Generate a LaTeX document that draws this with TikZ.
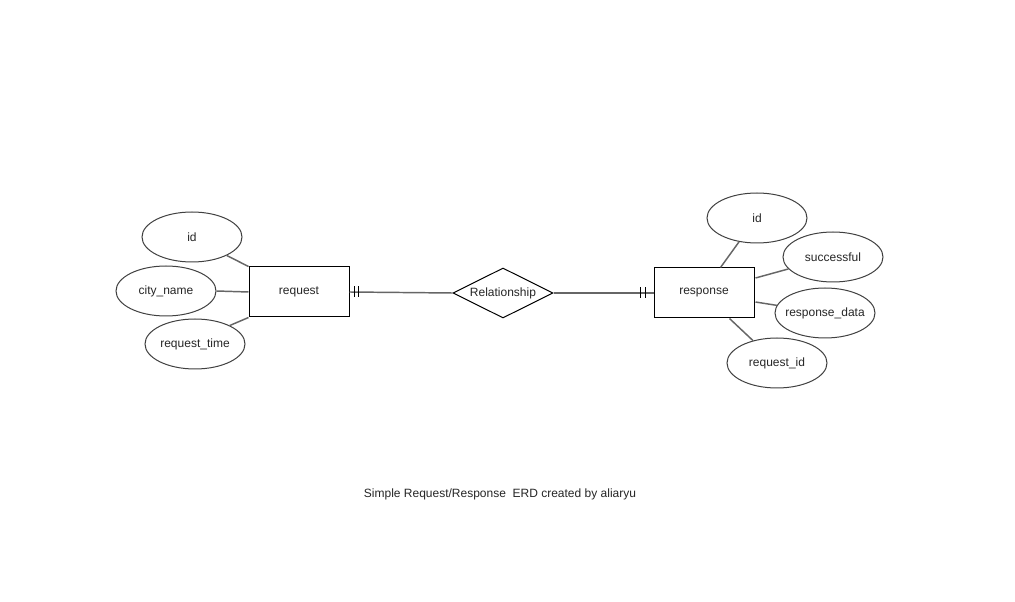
\documentclass[tikz,border=0pt]{standalone}
\usepackage{fontspec}
\setmainfont{Liberation Sans}
\usetikzlibrary{shapes.geometric,calc}
\begin{document}
\begin{tikzpicture}[x=0.75pt,y=-0.75pt,
  every node/.style={font=\fontsize{9}{11}\selectfont, text=black!85},
  entity/.style={draw=black, line width=0.75pt, minimum width=75pt, minimum height=37.5pt, inner sep=0pt},
  attr/.style={ellipse, draw=black!75, line width=0.75pt, minimum width=75pt, minimum height=37.5pt, inner ysep=0pt, inner xsep=-4pt},
  rel/.style={diamond, draw=black, line width=0.75pt, minimum width=75pt, minimum height=37.5pt, inner sep=0pt, aspect=2},
  link/.style={draw=black!60, line width=1.1pt},
  bar/.style={draw=black, line width=0.9pt}]
\useasboundingbox[fill=white] (0,0) rectangle (1015,602);

% entities and the relationship between them
\node[entity] (req) at (299,292) {request};
\node[entity] (resp) at (704,293) {response};
\node[rel] (relship) at (503,293) {Relationship};

% attributes of request
\node[attr] (rqid) at (192,237) {id};
\node[attr] (city) at (166,291) {city\_name};
\node[attr] (rtime) at (195,344) {request\_time};

% attributes of response
\node[attr] (rsid) at (757,218) {id};
\node[attr] (succ) at (833,257) {successful};
\node[attr] (rdata) at (825,313) {response\_data};
\node[attr] (rqref) at (777,363) {request\_id};

% attribute links
\draw[link] (rqid.-28) -- (req.north west);
\draw[link] (city.east) -- (req.west);
\draw[link] (rtime.28) -- (req.south west);
\draw[link] (rsid.-127) -- ($(resp.north west)+(67,0)$);
\draw[link] (succ.-165) -- ($(resp.east)+(1,-15)$);
\draw[link] (rdata.171) -- ($(resp.east)+(1,9)$);
\draw[link] (rqref.137) -- ($(resp.south west)+(76,0)$);

% relationship lines with mandatory-one marks
\draw[link] (req.east) -- (relship.west);
\draw[link] (relship.east) -- (resp.west);
\draw[bar] ($(req.east)+(5,0)$) +(0,-5.5) -- +(0,5.5);
\draw[bar] ($(req.east)+(9,0)$) +(0,-5.5) -- +(0,5.5);
\draw[bar] ($(resp.west)+(-8,0)$) +(0,-5.5) -- +(0,5.5);
\draw[bar] ($(resp.west)+(-13,0)$) +(0,-5.5) -- +(0,5.5);

% caption
\node (cap) at (500,494) {Simple Request/Response\ \ ERD created by aliaryu};
\end{tikzpicture}
\end{document}
